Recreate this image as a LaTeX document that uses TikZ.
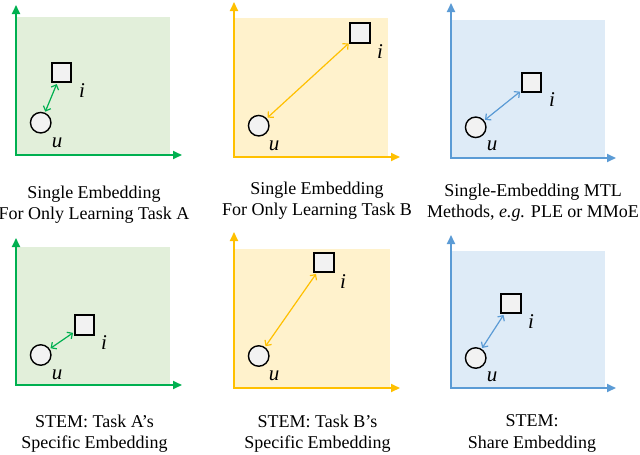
\documentclass[tikz,border=0pt]{standalone}
\usepackage{fontspec}
\setmainfont{Liberation Serif}
\usetikzlibrary{arrows.meta}
\definecolor{gA}{HTML}{00B050}
\definecolor{gAbg}{HTML}{E2EFDA}
\definecolor{yB}{HTML}{FFC000}
\definecolor{yBbg}{HTML}{FFF2CC}
\definecolor{bS}{HTML}{5B9BD5}
\definecolor{bSbg}{HTML}{DEEBF7}
\definecolor{nodefill}{HTML}{F2F2F2}
\tikzset{
  axisline/.style={line width=2pt, line join=miter, {Triangle[length=9pt,width=8pt]}-{Triangle[length=9pt,width=8pt]}},
  itembox/.style={rectangle, draw=black, fill=nodefill, line width=1.8pt, minimum size=19.5pt, inner sep=0pt},
  userdot/.style={circle, draw=black, fill=nodefill, line width=1.4pt, minimum size=20.5pt, inner sep=0pt},
  link/.style={line width=1.2pt, {Straight Barb[length=4pt,width=8pt]}-{Straight Barb[length=4pt,width=8pt]}, shorten >=1pt, shorten <=1pt},
  lab/.style={font=\fontsize{21}{21}\selectfont\itshape, inner sep=0pt},
  captext/.style={font=\fontsize{18}{21.5}\selectfont, align=center, inner sep=0pt, anchor=north},
}
\begin{document}
\begin{tikzpicture}[x=1pt,y=-1pt]
\useasboundingbox (0,0) rectangle (640,455);

% ---------- backgrounds ----------
\fill[gAbg] (16,155) rectangle (170,17);
\fill[yBbg] (234,157) rectangle (388,18);
\fill[bSbg] (451,158) rectangle (605,20);
\fill[gAbg] (16,385) rectangle (170,247);
\fill[yBbg] (234,388) rectangle (390,249);
\fill[bSbg] (451,388) rectangle (605,251);

% ---------- axes ----------
\coordinate (o1) at (16,155);  \coordinate (v1) at (16,5);   \coordinate (h1) at (182,155);
\coordinate (o2) at (234,157); \coordinate (v2) at (234,2);  \coordinate (h2) at (400,157);
\coordinate (o3) at (451,158); \coordinate (v3) at (451,3);  \coordinate (h3) at (616,158);
\coordinate (o4) at (16,385);  \coordinate (v4) at (16,238); \coordinate (h4) at (182,385);
\coordinate (o5) at (234,388); \coordinate (v5) at (234,232);\coordinate (h5) at (400,388);
\coordinate (o6) at (451,388); \coordinate (v6) at (451,235);\coordinate (h6) at (616,388);
\draw[axisline, gA] (v1) -- (o1) -- (h1);
\draw[axisline, yB] (v2) -- (o2) -- (h2);
\draw[axisline, bS] (v3) -- (o3) -- (h3);
\draw[axisline, gA] (v4) -- (o4) -- (h4);
\draw[axisline, yB] (v5) -- (o5) -- (h5);
\draw[axisline, bS] (v6) -- (o6) -- (h6);

% ---------- nodes ----------
\node[itembox] (s1) at (61.5,72.5) {};
\node[userdot] (c1) at (40.7,122.7) {};
\node[lab] (i1) at (82,91) {i};
\node[lab] (u1) at (57,143) {u};

\node[itembox] (s2) at (360,33) {};
\node[userdot] (c2) at (258.7,125.7) {};
\node[lab] (i2) at (380,52) {i};
\node[lab] (u2) at (274,146) {u};

\node[itembox] (s3) at (531.5,82.5) {};
\node[userdot] (c3) at (475.7,127.3) {};
\node[lab] (i3) at (552,100) {i};
\node[lab] (u3) at (492,146) {u};

\node[itembox] (s4) at (84.5,325) {};
\node[userdot] (c4) at (40.7,355) {};
\node[lab] (i4) at (104,343) {i};
\node[lab] (u4) at (57,375) {u};

\node[itembox] (s5) at (324,262.5) {};
\node[userdot] (c5) at (258.7,356) {};
\node[lab] (i5) at (343,282) {i};
\node[lab] (u5) at (274,376) {u};

\node[itembox] (s6) at (511,303.5) {};
\node[userdot] (c6) at (475.7,358) {};
\node[lab] (i6) at (531,322) {i};
\node[lab] (u6) at (492,377) {u};

% ---------- connectors ----------
\draw[link, gA] (c1) -- (s1);
\draw[link, yB] (c2) -- (s2);
\draw[link, bS] (c3) -- (s3);
\draw[link, gA] (c4) -- (s4);
\draw[link, yB] (c5) -- (s5);
\draw[link, bS] (c6) -- (s6);

% ---------- captions ----------
\node[captext] (t1) at (94,185.7) {Single Embedding\\For Only Learning Task A};
\node[captext] (t2) at (317,181.7) {Single Embedding\\For Only Learning Task B};
\node[captext] (t3) at (533,183.7) {Single-Embedding MTL\\Methods, \textit{e.g.} PLE or MMoE};
\node[captext] (t4) at (94.5,414.5) {STEM: Task A’s\\Specific Embedding};
\node[captext] (t5) at (317.5,414.5) {STEM: Task B’s\\Specific Embedding};
\node[captext] (t6) at (532,414.5) {STEM:\\Share Embedding};
\end{tikzpicture}
\end{document}
